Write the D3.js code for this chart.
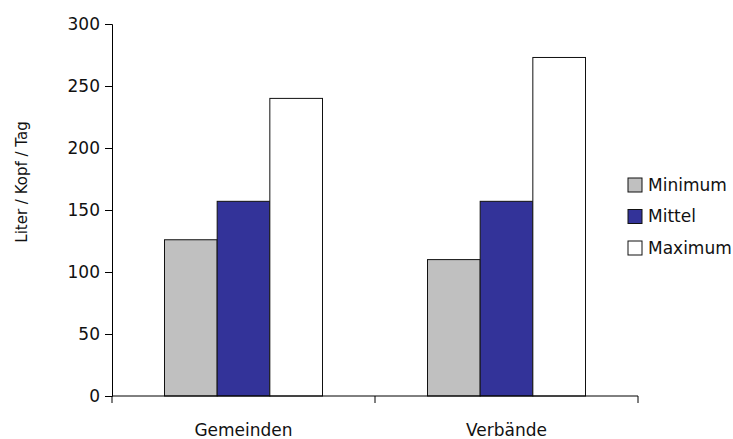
<!DOCTYPE html>
<html>
<head>
<meta charset="utf-8">
<script src="https://cdn.jsdelivr.net/npm/d3@7"></script>
<style>
  html, body { margin: 0; padding: 0; background: #fff; }
  text { font-family: "DejaVu Sans", "Noto Sans", sans-serif; fill: #111; }
</style>
</head>
<body>
<svg id="chart" width="733" height="439"></svg>
<script>
// Water consumption per head and day
const categories = ["Gemeinden", "Verbände"];
const seriesNames = ["Minimum", "Mittel", "Maximum"];
const minimum = [126, 110];
const mittel = [157, 157];
const maximum = [240, 273];
const yTicks = [0, 50, 100, 150, 200, 250, 300];
const yLabel = "Liter / Kopf / Tag";

const seriesValues = [minimum, mittel, maximum];
const colors = ["#c0c0c0", "#333399", "#ffffff"];

const svg = d3.select("#chart");
const margin = { left: 112, top: 24, right: 95, bottom: 43 };
const width = 733 - margin.left - margin.right;   // 526
const height = 439 - margin.top - margin.bottom;  // 372
const fontFamily = "'DejaVu Sans', 'Noto Sans', sans-serif";

const g = svg.append("g").attr("transform", `translate(${margin.left},${margin.top})`);

const x0 = d3.scaleBand().domain(categories).range([0, width]);
const x1 = d3.scaleBand().domain(seriesNames).range([52.5, x0.bandwidth() - 52.5]);
const y = d3.scaleLinear().domain([0, 300]).range([height, 0]);

// bars
categories.forEach((cat, ci) => {
  const grp = g.append("g").attr("transform", `translate(${x0(cat)},0)`);
  grp.selectAll("rect")
    .data(seriesNames.map((s, si) => ({ s, v: seriesValues[si][ci], c: colors[si] })))
    .join("rect")
    .attr("x", d => x1(d.s))
    .attr("y", d => y(d.v))
    .attr("width", x1.bandwidth())
    .attr("height", d => y(0) - y(d.v))
    .attr("fill", d => d.c)
    .attr("stroke", "#111")
    .attr("stroke-width", 1);
});

// y axis
const yAxis = g.append("g")
  .call(d3.axisLeft(y).tickValues(yTicks).tickSize(7).tickPadding(5));
yAxis.select(".domain").attr("stroke", "#000");
yAxis.selectAll(".tick line").attr("stroke", "#000");
yAxis.selectAll(".tick text")
  .style("font-size", "17px")
  .style("font-family", fontFamily)
  .attr("fill", "#111");

// x axis with ticks at band boundaries
const xAxis = g.append("g").attr("transform", `translate(0,${height})`);
xAxis.append("line")
  .attr("x1", 0).attr("x2", width)
  .attr("y1", 0).attr("y2", 0)
  .attr("stroke", "#000");
const boundaries = categories.map(c => x0(c)).concat([width]);
xAxis.selectAll("line.tick")
  .data(boundaries)
  .join("line")
  .attr("class", "tick")
  .attr("x1", d => d).attr("x2", d => d)
  .attr("y1", 0).attr("y2", 7)
  .attr("stroke", "#000");
xAxis.selectAll("text.cat")
  .data(categories)
  .join("text")
  .attr("class", "cat")
  .attr("x", d => x0(d) + x0.bandwidth() / 2)
  .attr("y", 34)
  .attr("dy", "0.35em")
  .attr("text-anchor", "middle")
  .style("font-size", "17px")
  .text(d => d);

// y axis title
svg.append("text")
  .attr("transform", `translate(22,${margin.top + 158}) rotate(-90)`)
  .attr("text-anchor", "middle")
  .attr("dy", "0.35em")
  .style("font-size", "15px")
  .text(yLabel);

// legend
const legend = svg.append("g").attr("transform", "translate(628,185)");
seriesNames.forEach((s, i) => {
  const row = legend.append("g").attr("transform", `translate(0,${i * 31.5})`);
  row.append("rect")
    .attr("x", 0).attr("y", -7)
    .attr("width", 14).attr("height", 14)
    .attr("fill", colors[i])
    .attr("stroke", "#111");
  row.append("text")
    .attr("x", 20).attr("y", 0)
    .attr("dy", "0.35em")
    .style("font-size", "17px")
    .text(s);
});
</script>
</body>
</html>
